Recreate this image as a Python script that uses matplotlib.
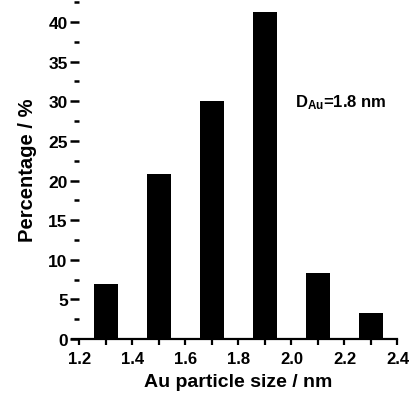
import matplotlib
matplotlib.use("Agg")
import matplotlib.pyplot as plt
from matplotlib.ticker import MultipleLocator

plt.rcParams['font.family'] = ['Liberation Sans', 'DejaVu Sans']
plt.rcParams['font.weight'] = 'bold'
plt.rcParams['mathtext.fontset'] = 'custom'
plt.rcParams['mathtext.rm'] = 'Liberation Sans:bold'
plt.rcParams['mathtext.bf'] = 'Liberation Sans:bold'

sizes = [1.3, 1.5, 1.7, 1.9, 2.1, 2.3]
percent = [6.9, 20.8, 30.0, 41.3, 8.4, 3.3]
x_ticks = [1.2, 1.4, 1.6, 1.8, 2.0, 2.2, 2.4]
x_tick_labels = ["1.2", "1.4", "1.6", "1.8", "2.0", "2.2", "2.4"]
y_ticks = [0, 5, 10, 15, 20, 25, 30, 35, 40]

fig = plt.figure(figsize=(4.14, 4.02), dpi=100)
ax = fig.add_axes([0.192, 0.154, 0.768, 0.846])

ax.bar(sizes, percent, width=0.09, color='black', edgecolor='black', linewidth=0)

ax.set_xlim(1.2, 2.4)
ax.set_ylim(0, 42.9)
ax.set_xticks(x_ticks)
ax.set_xticklabels(x_tick_labels)
ax.set_yticks(y_ticks)
ax.xaxis.set_minor_locator(MultipleLocator(0.1))
ax.yaxis.set_minor_locator(MultipleLocator(2.5))

for side in ('top', 'right', 'left'):
    ax.spines[side].set_visible(False)
ax.spines['bottom'].set_linewidth(1.6)
ax.spines['bottom'].set_bounds(1.17, 2.4)

ax.tick_params(axis='x', which='major', direction='out', length=4.5, width=1.6,
               labelsize=12, pad=4)
ax.tick_params(axis='x', which='minor', direction='out', length=4.5, width=1.6)
ax.tick_params(axis='y', which='major', direction='out', length=6.5, width=1.8,
               labelsize=12.5, pad=2)
ax.tick_params(axis='y', which='minor', direction='out', length=3.6, width=1.8)

for lab in ax.get_xticklabels() + ax.get_yticklabels():
    lab.set_fontweight('bold')

ax.set_xlabel("Au particle size / nm", fontsize=14, fontweight='bold', labelpad=5)
ax.set_ylabel("Percentage / %", fontsize=14.5, fontweight='bold', labelpad=8)

ax.text(2.015, 29.4, r"$\mathbf{D_{Au}}$=1.8 nm", fontsize=12, fontweight='bold')

fig.savefig("out.png", dpi=100)
